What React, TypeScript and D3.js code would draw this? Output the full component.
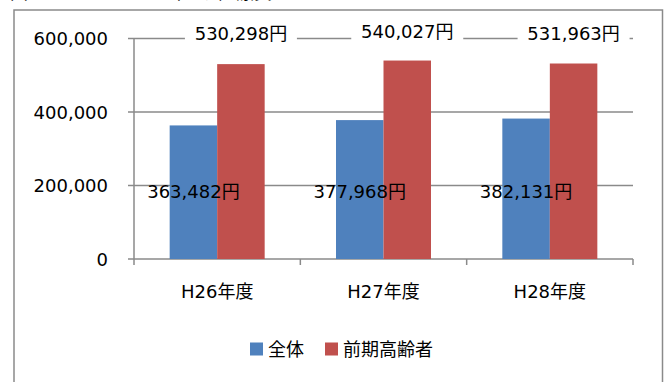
import React from "react";
import * as d3 from "d3";

const categories = ["H26年度", "H27年度", "H28年度"];
const seriesNames = ["全体", "前期高齢者"];
const allValues = [363482, 377968, 382131];
const elderlyValues = [530298, 540027, 531963];
const yTicks = [0, 200000, 400000, 600000];

const W = 667;
const H = 382;
const FONT = "'DejaVu Sans', 'Noto Sans CJK JP', sans-serif";
const COLORS = ["#4F81BD", "#C0504D"];
const GRID = "#8a8a8a";

export default function App() {
  const plotLeft = 134;
  const plotRight = 633;
  const plotTop = 38.5;
  const plotBottom = 259;

  const x = d3.scaleBand<string>().domain(categories).range([plotLeft, plotRight]).padding(0);
  const groupWidth = 95;
  const inner = d3
    .scaleBand<string>()
    .domain(seriesNames)
    .range([(x.bandwidth() - groupWidth) / 2, (x.bandwidth() + groupWidth) / 2])
    .padding(0);
  const y = d3.scaleLinear().domain([0, 600000]).range([plotBottom, plotTop]);
  const fmt = d3.format(",");

  const series = [allValues, elderlyValues];
  const boundaries = [...categories.map((c) => x(c) as number), plotRight];

  return (
    <svg
      width={W}
      height={H}
      style={{ position: "absolute", left: 0, top: 0, background: "#fff" }}
      fontFamily={FONT}
    >
      {/* title, mostly cut off at the top edge */}
      <text x={10} y={-1} fontSize={18} fill="#000">図6</text>
      <text x={128} y={-1} fontSize={18} fill="#000">一人当たり医療費</text>

      {/* chart frame */}
      <rect x={14} y={10} width={648.5} height={400} fill="#fff" stroke={GRID} strokeWidth={1.5} />

      {/* gridlines and y ticks */}
      {yTicks.map((t) => (
        <g key={t}>
          <line x1={plotLeft - 6} x2={plotRight} y1={y(t)} y2={y(t)} stroke={GRID} strokeWidth={1.5} />
          <text
            x={108}
            y={y(t)}
            textAnchor="end"
            dominantBaseline="central"
            fontSize={18}
            fill="#000"
          >
            {fmt(t)}
          </text>
        </g>
      ))}

      {/* y axis line */}
      <line x1={plotLeft} x2={plotLeft} y1={plotTop} y2={plotBottom} stroke={GRID} strokeWidth={1.5} />

      {/* x axis tick marks */}
      {boundaries.map((b, i) => (
        <line key={i} x1={b} x2={b} y1={plotBottom} y2={plotBottom + 6} stroke={GRID} strokeWidth={1.5} />
      ))}

      {/* bars */}
      {categories.map((c, i) => (
        <g key={c} transform={`translate(${x(c)},0)`}>
          {series.map((vals, s) => (
            <rect
              key={s}
              x={inner(seriesNames[s]) as number}
              y={y(vals[i])}
              width={inner.bandwidth()}
              height={plotBottom - y(vals[i])}
              fill={COLORS[s]}
            />
          ))}
        </g>
      ))}

      {/* x category labels */}
      {categories.map((c) => (
        <text
          key={c}
          x={(x(c) as number) + x.bandwidth() / 2}
          y={291}
          textAnchor="middle"
          dominantBaseline="central"
          fontSize={18}
          fill="#000"
        >
          {c}
        </text>
      ))}

      {/* value labels: 全体 */}
      {categories.map((c, i) => (
        <text
          key={c}
          x={(x(c) as number) + (inner(seriesNames[0]) as number) + inner.bandwidth() / 2}
          y={y(200000) + 5.5}
          textAnchor="middle"
          dominantBaseline="central"
          fontSize={18}
          fill="#000"
        >
          {fmt(allValues[i])}円
        </text>
      ))}

      {/* value labels: 前期高齢者 (boxed, above the plot) */}
      {categories.map((c, i) => {
        const cx = (x(c) as number) + (inner(seriesNames[1]) as number) + inner.bandwidth() / 2;
        const cy = y(600000) - 5 - (i === 1 ? 2 : 0);
        return (
          <g key={c}>
            <rect x={cx - 56} y={cy - 11} width={112} height={22} fill="#fff" />
            <text x={cx} y={cy} textAnchor="middle" dominantBaseline="central" fontSize={18} fill="#000">
              {fmt(elderlyValues[i])}円
            </text>
          </g>
        );
      })}

      {/* legend */}
      {seriesNames.map((name, s) => {
        const lx = s === 0 ? 250 : 325;
        return (
          <g key={name}>
            <rect x={lx} y={342.5} width={13} height={13} fill={COLORS[s]} />
            <text x={lx + 18} y={349} dominantBaseline="central" fontSize={18} fill="#000">
              {name}
            </text>
          </g>
        );
      })}
    </svg>
  );
}
